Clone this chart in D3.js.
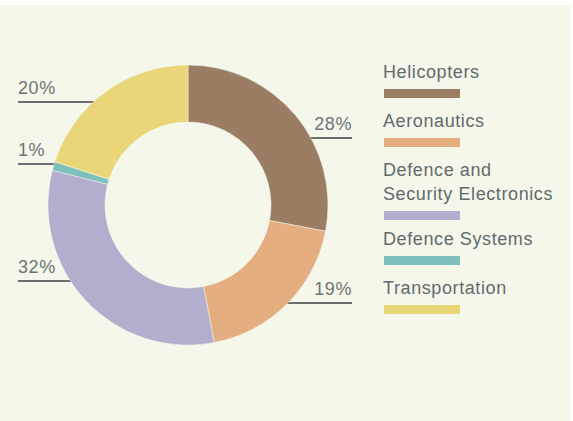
<!DOCTYPE html>
<html>
<head>
<meta charset="utf-8">
<script src="https://cdn.jsdelivr.net/npm/d3@7"></script>
<style>
  html, body { margin: 0; padding: 0; background: #ffffff; }
  svg { display: block; }
  text { font-family: "Liberation Sans", Arial, sans-serif; }
</style>
</head>
<body>
<svg id="chart" width="573" height="421"></svg>
<script>
// Revenue split by business segment
const segments = ["Helicopters", "Aeronautics", "Defence and Security Electronics", "Defence Systems", "Transportation"];
const shares = [28, 19, 32, 1, 20];
const colors = ["#9a7d62", "#e4ae80", "#b3aecd", "#7cbfbb", "#e8d678"];
// Legend text, split over lines
const legendLines = [["Helicopters"], ["Aeronautics"], ["Defence and", "Security Electronics"], ["Defence Systems"], ["Transportation"]];

// Callout placement: which side, and height of the leader line
const calloutSide = ["right", "right", "left", "left", "left"];
const calloutY = [138, 303, 281, 164, 102];

const W = 573, H = 421;
const svg = d3.select("#chart");

// panel background
svg.append("rect").attr("x", 0).attr("y", 5).attr("width", 571).attr("height", H - 5).attr("fill", "#f5f7ea");

const cx = 188, cy = 205, rOuter = 140, rInner = 83;

const pie = d3.pie().sort(null).value(d => d);
const arcs = pie(shares);
const arc = d3.arc().innerRadius(rInner).outerRadius(rOuter);

const g = svg.append("g").attr("transform", `translate(${cx},${cy})`);

// leader lines behind the ring
const leftX = 18, rightX = 352;
arcs.forEach((a, i) => {
  const y = calloutY[i] - cy;
  const dx = Math.sqrt(Math.max(0, rOuter * rOuter - y * y));
  const side = calloutSide[i];
  const x0 = side === "right" ? dx - 2 : -dx + 2;
  const x1 = side === "right" ? rightX - cx : leftX - cx;
  g.append("line")
    .attr("x1", x0).attr("x2", x1)
    .attr("y1", y).attr("y2", y)
    .attr("stroke", "#6e6e6e").attr("stroke-width", 2);
  g.append("text")
    .attr("x", x1).attr("y", y - 8)
    .attr("text-anchor", side === "right" ? "end" : "start")
    .attr("font-size", 18).attr("letter-spacing", 0.6)
    .attr("fill", "#6c7476")
    .text(shares[i] + "%");
});

g.selectAll("path.slice")
  .data(arcs)
  .join("path")
  .attr("class", "slice")
  .attr("d", arc)
  .attr("fill", (d, i) => colors[i])
  .attr("stroke", "#f5f7ea")
  .attr("stroke-width", 0.5);

// legend
const legend = svg.append("g").attr("transform", "translate(383,0)");
let baseY = 78;
legendLines.forEach((lines, i) => {
  lines.forEach((ln, j) => {
    legend.append("text")
      .attr("x", 0).attr("y", baseY + j * 24)
      .attr("font-size", 18).attr("letter-spacing", 0.6)
      .attr("fill", "#5f6b6d")
      .text(ln);
  });
  const swY = baseY + (lines.length - 1) * 24 + 11;
  legend.append("rect")
    .attr("x", 1).attr("y", swY).attr("width", 76).attr("height", 9)
    .attr("fill", colors[i]);
  baseY += 49 + (lines.length - 1) * 20;
});
</script>
</body>
</html>
